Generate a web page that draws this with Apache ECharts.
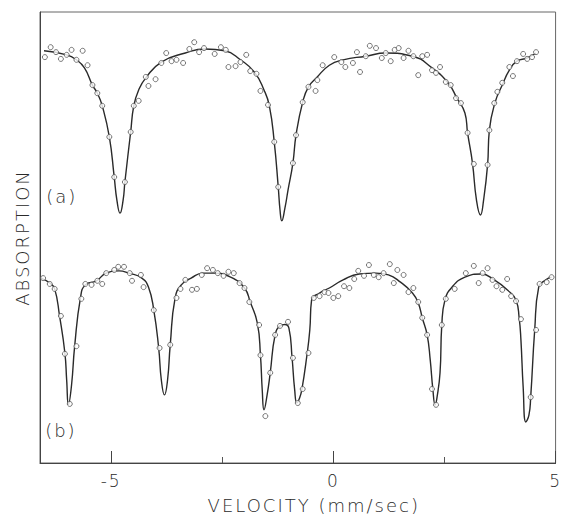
<!DOCTYPE html>
<html>
<head>
    <meta charset="utf-8">
    <title>Mossbauer spectra</title>
    <script src="https://cdn.jsdelivr.net/npm/echarts@6/dist/echarts.min.js"></script>
    <style type="text/css">
        html, body {
            margin: 0;
            padding: 0;
            background: #fff;
        }
        #main {
            width: 564px;
            height: 519px;
        }
        /* wide lettering like the original figure */
        #main text {
            letter-spacing: 2px;
        }
    </style>
</head>
<body>
<div id="main"></div>
<script type="text/javascript">
    // velocity (mm/sec), absorption (arb. units, grows downwards)
    // (a) fitted curve
    var fitA = [[-6.51,0.86],[-6.00,0.95],[-5.78,1.06],[-5.60,1.24],[-5.42,1.62],[-5.31,1.80],
        [-5.20,2.08],[-5.04,2.77],[-4.93,3.66],[-4.87,4.17],[-4.80,4.46],[-4.73,4.17],[-4.69,3.77],
        [-4.56,2.66],[-4.49,2.08],[-4.38,1.73],[-4.22,1.46],[-3.87,1.11],[-3.33,0.91],[-2.89,0.82],
        [-2.44,0.86],[-2.09,1.06],[-1.78,1.33],[-1.56,1.73],[-1.44,2.08],[-1.33,2.88],[-1.24,3.88],
        [-1.20,4.39],[-1.16,4.63],[-1.09,4.35],[-1.02,3.95],[-0.91,3.35],[-0.84,2.73],[-0.69,2.00],
        [-0.56,1.66],[-0.38,1.46],[-0.09,1.18],[0.22,1.06],[0.73,0.98],[1.18,0.91],[1.78,0.98],
        [2.22,1.24],[2.58,1.57],[2.78,1.91],[2.96,2.24],[3.02,2.68],[3.13,3.35],[3.22,4.17],
        [3.31,4.50],[3.38,4.17],[3.47,3.39],[3.51,2.62],[3.64,2.00],[3.80,1.62],[3.96,1.29],
        [4.13,1.09],[4.36,1.02],[4.56,0.91]];

    // (a) measured points
    var ptsA = [[-6.49,1.00],[-6.36,0.78],[-6.24,0.89],[-6.13,1.04],[-6.00,0.95],[-5.89,0.84],
        [-5.78,1.06],[-5.64,0.86],[-5.53,1.18],[-5.42,1.62],[-5.31,1.80],[-5.20,2.08],[-5.04,2.77],
        [-4.93,3.66],[-4.69,3.77],[-4.56,2.66],[-4.49,2.08],[-4.38,1.97],[-4.22,1.44],[-4.16,1.64],
        [-4.00,1.49],[-3.87,1.13],[-3.76,0.91],[-3.64,1.09],[-3.53,1.06],[-3.38,1.13],[-3.24,0.82],
        [-3.13,0.67],[-3.02,0.89],[-2.91,0.80],[-2.67,0.93],[-2.53,0.78],[-2.42,0.84],[-2.36,1.22],
        [-2.20,1.20],[-2.09,1.11],[-1.96,0.95],[-1.87,1.31],[-1.73,1.37],[-1.64,1.75],[-1.47,2.06],
        [-1.33,2.88],[-1.24,3.88],[-0.91,3.35],[-0.84,2.73],[-0.69,2.00],[-0.56,1.66],[-0.40,1.75],
        [-0.36,1.51],[-0.24,1.18],[0.02,1.00],[0.18,1.11],[0.27,1.22],[0.44,1.13],[0.53,0.89],
        [0.60,1.33],[0.73,0.98],[0.82,0.75],[0.96,0.80],[1.09,1.02],[1.18,0.91],[1.29,1.09],
        [1.38,0.84],[1.47,0.80],[1.58,1.02],[1.69,0.86],[1.80,0.98],[1.91,1.40],[2.00,0.98],
        [2.11,0.95],[2.22,1.29],[2.31,1.35],[2.40,1.22],[2.53,1.55],[2.64,1.62],[2.76,1.91],
        [2.87,2.02],[3.02,2.68],[3.16,3.37],[3.47,3.39],[3.51,2.62],[3.62,2.02],[3.69,1.77],
        [3.80,1.57],[3.96,1.22],[4.04,1.42],[4.13,1.09],[4.27,0.93],[4.36,1.04],[4.47,1.00],
        [4.56,0.89]];

    // (b) fitted curve
    var fitB = [[-6.58,5.90],[-6.38,6.01],[-6.27,6.14],[-6.16,6.74],[-6.04,7.56],[-6.00,8.16],
        [-5.96,8.71],[-5.89,8.27],[-5.82,7.41],[-5.69,6.34],[-5.58,6.05],[-5.33,5.96],[-5.11,5.79],
        [-4.82,5.74],[-4.60,5.79],[-4.31,5.90],[-4.16,6.10],[-4.04,6.61],[-3.93,7.45],[-3.87,8.16],
        [-3.80,8.49],[-3.73,8.16],[-3.67,7.38],[-3.56,6.34],[-3.42,6.05],[-3.20,5.90],[-2.93,5.79],
        [-2.67,5.79],[-2.31,5.88],[-2.00,6.12],[-1.87,6.43],[-1.71,6.90],[-1.64,7.61],[-1.60,8.38],
        [-1.56,8.82],[-1.49,8.49],[-1.42,8.00],[-1.31,7.16],[-1.20,6.96],[-1.09,6.93],[-1.00,7.01],
        [-0.93,7.65],[-0.87,8.38],[-0.82,8.67],[-0.76,8.56],[-0.71,8.38],[-0.60,7.65],[-0.53,7.05],
        [-0.49,6.39],[-0.31,6.23],[-0.09,6.12],[0.22,5.94],[0.58,5.81],[0.96,5.79],[1.24,5.83],
        [1.51,5.99],[1.78,6.23],[1.91,6.45],[2.00,6.78],[2.11,7.16],[2.18,7.72],[2.24,8.38],
        [2.29,8.71],[2.33,8.56],[2.40,8.00],[2.44,6.94],[2.51,6.39],[2.67,6.10],[2.96,5.88],
        [3.33,5.81],[3.62,5.94],[3.91,6.16],[4.11,6.39],[4.18,6.78],[4.22,7.27],[4.27,8.31],
        [4.33,9.09],[4.40,8.94],[4.44,8.54],[4.53,7.05],[4.62,6.10],[4.78,5.94],[4.91,5.88]];

    // (b) measured points
    var ptsB = [[-6.53,5.90],[-6.38,6.03],[-6.27,6.14],[-6.13,6.74],[-6.04,7.58],[-5.93,8.69],
        [-5.78,7.41],[-5.67,6.36],[-5.58,6.03],[-5.44,6.05],[-5.31,5.96],[-5.20,6.03],[-5.11,5.79],
        [-4.93,5.72],[-4.84,5.65],[-4.71,5.65],[-4.58,5.79],[-4.53,5.96],[-4.33,5.83],[-4.27,6.10],
        [-4.04,6.61],[-3.91,7.45],[-3.67,7.38],[-3.53,6.34],[-3.44,6.14],[-3.33,5.94],[-3.18,6.16],
        [-3.07,6.14],[-2.96,5.83],[-2.84,5.68],[-2.71,5.72],[-2.60,5.79],[-2.47,5.85],[-2.36,5.76],
        [-2.24,5.79],[-2.11,6.01],[-2.00,6.12],[-1.89,6.43],[-1.67,6.94],[-1.64,7.61],[-1.53,8.96],
        [-1.42,8.00],[-1.31,7.16],[-1.20,6.96],[-1.02,6.87],[-0.91,7.67],[-0.80,8.67],[-0.69,8.36],
        [-0.56,7.56],[-0.44,6.34],[-0.31,6.30],[-0.20,6.21],[-0.11,6.23],[0.00,6.34],[0.11,6.30],
        [0.24,6.08],[0.36,6.12],[0.47,5.92],[0.56,5.74],[0.69,5.85],[0.80,5.61],[0.91,5.83],
        [1.02,5.88],[1.13,5.79],[1.27,5.59],[1.36,6.01],[1.44,5.72],[1.58,5.83],[1.69,6.21],
        [1.80,6.12],[1.91,6.43],[2.00,6.78],[2.11,7.16],[2.22,8.36],[2.31,8.71],[2.44,6.94],
        [2.53,6.36],[2.73,6.14],[2.98,5.79],[3.16,5.63],[3.27,6.01],[3.36,5.79],[3.47,5.68],
        [3.58,5.94],[3.67,6.08],[3.80,6.16],[3.91,5.92],[4.00,6.30],[4.11,6.41],[4.22,6.81],
        [4.44,8.54],[4.56,7.05],[4.64,6.03],[4.80,5.99],[4.91,5.88]];

    var majorTicks = [-5, 0, 5];
    var minorTicks = [-2.5, 2.5];

    var FONT = 'DejaVu Sans';
    var INK = '#2a2a2a';

    var lineStyle = { color: INK, width: 1.4 };
    var dotStyle = { color: '#fff', borderColor: '#555', borderWidth: 1 };

    function panelLabel(text, v, a) {
        return {
            silent: true,
            symbolSize: 0,
            label: { show: true, position: 'inside', formatter: text,
                fontFamily: FONT, fontWeight: 200, fontSize: 18, color: INK },
            data: [{ coord: [v, a] }]
        };
    }

    var option = {
        animation: false,
        grid: {
            left: 40, top: 12, right: 2, bottom: 56,
            show: true, borderColor: '#666', borderWidth: 1
        },
        xAxis: [
            {
                type: 'value', min: -6.6, max: 5, position: 'bottom',
                name: 'VELOCITY (mm/sec)',
                nameLocation: 'middle', nameGap: 33,
                nameTextStyle: { fontFamily: FONT, fontWeight: 200, fontSize: 18, color: INK,
                    padding: [0, 0, 0, 32] },
                axisLine: { show: true, onZero: false, lineStyle: { color: '#444', width: 1 } },
                axisTick: { show: true, inside: true, length: 12, customValues: majorTicks,
                    lineStyle: { color: '#444', width: 1 } },
                axisLabel: { customValues: majorTicks, margin: 9, fontFamily: FONT,
                    fontWeight: 200, fontSize: 17, color: INK },
                splitLine: { show: false }
            },
            {
                type: 'value', min: -6.6, max: 5, position: 'bottom',
                axisLine: { show: false, onZero: false },
                axisTick: { show: true, inside: true, length: 6, customValues: minorTicks,
                    lineStyle: { color: '#555', width: 1 } },
                axisLabel: { show: false },
                splitLine: { show: false }
            }
        ],
        yAxis: {
            type: 'value', min: 0, max: 10, inverse: true, position: 'left',
            name: 'ABSORPTION',
            nameLocation: 'middle', nameGap: 9,
            nameTextStyle: { fontFamily: FONT, fontWeight: 200, fontSize: 18, color: INK },
            axisLine: { show: true, onZero: false, lineStyle: { color: '#444', width: 1 } },
            axisTick: { show: false },
            axisLabel: { show: false },
            splitLine: { show: false }
        },
        series: [
            {
                name: 'fit (a)', type: 'line', data: fitA,
                smooth: 0.5, symbol: 'none',
                lineStyle: lineStyle, z: 2,
                markPoint: panelLabel('(a)', -6.11, 4.10)
            },
            {
                name: 'fit (b)', type: 'line', data: fitB,
                smooth: 0.5, symbol: 'none',
                lineStyle: lineStyle, z: 2,
                markPoint: panelLabel('(b)', -6.13, 9.27)
            },
            {
                name: 'data (a)', type: 'scatter', data: ptsA,
                symbol: 'circle', symbolSize: 5, itemStyle: dotStyle, z: 3
            },
            {
                name: 'data (b)', type: 'scatter', data: ptsB,
                symbol: 'circle', symbolSize: 5, itemStyle: dotStyle, z: 3
            }
        ]
    };

    var chart = echarts.init(document.getElementById('main'), null, { renderer: 'svg' });
    chart.setOption(option);
</script>
</body>
</html>
